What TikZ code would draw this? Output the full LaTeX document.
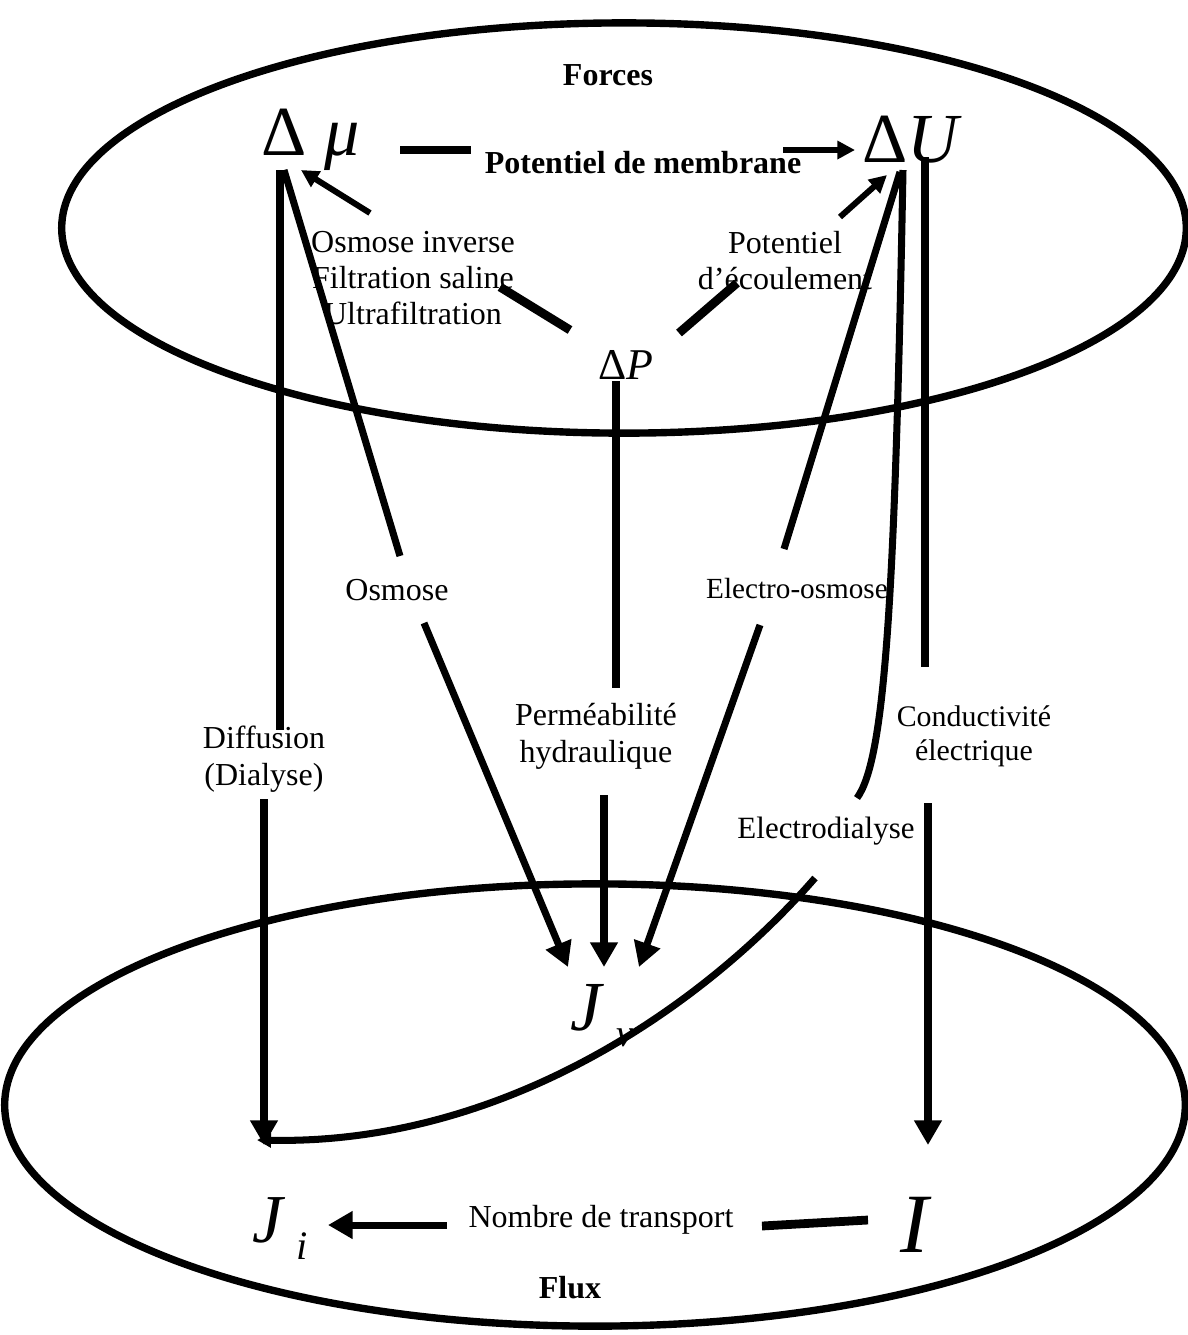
\documentclass[tikz,border=0pt]{standalone}
\usepackage{fontspec}
\setmainfont{Liberation Serif}
\usetikzlibrary{arrows.meta}

\begin{document}
\begin{tikzpicture}[x=0.01cm, y=-0.01cm,
    every node/.style={inner sep=0pt, align=center, font=\fontsize{9.1}{10.3}\selectfont},
    lbl/.style={anchor=base},
    title/.style={anchor=base, font=\fontsize{9.1}{10.3}\selectfont\bfseries},
    big/.style={anchor=base, font=\fontsize{19}{19}\selectfont},
    link/.style={line width=2pt},
    bar/.style={line width=2.5pt},
    flow/.style={line width=2pt, -{Triangle[length=7pt,width=7.5pt]}},
    nudge/.style={line width=1.7pt, -{Triangle[length=5pt,width=5pt]}}]
  \useasboundingbox (0,0) rectangle (1188,1335);
  % the two sets
  \draw[line width=2.1pt] (624,228) ellipse [x radius=5.62cm, y radius=2.05cm];
  \draw[line width=2.1pt] (595,1105) ellipse [x radius=5.90cm, y radius=2.21cm];
  \node[title] (forces) at (608,85) {Forces};
  \node[title] (flux) at (570,1298) {Flux};

  % forces
  \node[big, font=\fontsize{20}{20}\selectfont] (dmu) at (311,155) {Δ \textit{μ}};
  \node[big, font=\fontsize{20}{20}\selectfont] (dU) at (912,162) {Δ\textit{U}};
  \node[big, font=\fontsize{12.5}{12.5}\selectfont] (dP) at (626,379) {Δ\textit{P}};
  % flux
  \node[big, font=\fontsize{20}{20}\selectfont] (jv) at (602,1030)
    {\textit{J}\,\raisebox{-4.8pt}{\fontsize{11}{11}\selectfont\textit{v}}};
  \node[big, font=\fontsize{19.5}{19.5}\selectfont] (ji) at (280,1242)
    {\textit{J}\,\raisebox{-5pt}{\fontsize{11.5}{11.5}\selectfont\textit{i}}};
  \node[big, font=\fontsize{24}{24}\selectfont] (I) at (916,1252) {\textit{I}};

  % couplings (base = last line)
  \node[title] (pdm) at (643,173) {Potentiel de membrane};
  \node[lbl, font=\fontsize{9.1}{10.2}\selectfont] (osminv) at (413,324)
    {Osmose inverse\\Filtration saline\\Ultrafiltration};
  \node[lbl, font=\fontsize{9.1}{10.2}\selectfont] (potec) at (785,289)
    {Potentiel\\d’écoulement};
  \node[lbl] (osmose) at (397,600) {Osmose};
  \node[lbl, font=\fontsize{8.3}{9.5}\selectfont] (elosm) at (797,598) {Electro-osmose};
  \node[lbl, font=\fontsize{9.1}{10.5}\selectfont] (diff) at (264,785) {Diffusion\\(Dialyse)};
  \node[lbl, font=\fontsize{9.1}{10.5}\selectfont] (perm) at (596,762)
    {Perméabilité\\hydraulique};
  \node[lbl, font=\fontsize{8.5}{9.4}\selectfont] (cond) at (974,760)
    {Conductivité\\électrique};
  \node[lbl, font=\fontsize{8.8}{10}\selectfont] (edial) at (826,838) {Electrodialyse};
  \node[lbl] (nbt) at (601,1227) {Nombre de transport};

  % ports
  \coordinate (dmu-s) at (280,170);   \coordinate (dmu-s2) at (284,170);
  \coordinate (dmu-se) at (301,170);  \coordinate (dmu-e) at (400,150);
  \coordinate (dU-w) at (855,150);    \coordinate (dU-sw) at (887,175);
  \coordinate (dU-s) at (900,172);    \coordinate (dU-s2) at (903,170);
  \coordinate (dU-se) at (925,157);
  \coordinate (dP-s) at (616,381);    \coordinate (dP-nw) at (570,330);
  \coordinate (dP-ne) at (679,333);
  \coordinate (pdm-w) at (471,150);   \coordinate (pdm-e) at (783,150);
  \coordinate (osminv-n) at (370,213); \coordinate (osminv-e) at (500,287);
  \coordinate (potec-n) at (840,217); \coordinate (potec-w) at (737,283);
  \coordinate (osmose-n) at (400,556); \coordinate (osmose-s) at (424,623);
  \coordinate (elosm-n) at (784,549); \coordinate (elosm-s) at (760,625);
  \coordinate (diff-n) at (280,730);  \coordinate (diff-s) at (264,799);
  \coordinate (perm-n) at (616,688);  \coordinate (perm-s) at (604,795);
  \coordinate (cond-n) at (925,667);  \coordinate (cond-s) at (928,803);
  \coordinate (edial-n) at (857,798); \coordinate (edial-s) at (815,878);
  \coordinate (jv-nw) at (568,967);   \coordinate (jv-n) at (604,967);
  \coordinate (jv-ne) at (639,967);
  \coordinate (ji-n) at (264,1145);   \coordinate (ji-ne) at (257,1140);
  \coordinate (ji-e) at (328,1225);   \coordinate (nbt-w) at (447,1225);
  \coordinate (nbt-e) at (762,1226);  \coordinate (I-w) at (868,1220);
  \coordinate (I-n) at (928,1145);

  % inside the forces
  \draw[bar] (dmu-e) -- (pdm-w);
  \draw[nudge] (pdm-e) -- (dU-w);
  \draw[nudge] (osminv-n) -- (dmu-se);
  \draw[bar] (dP-nw) -- (osminv-e);
  \draw[bar] (dP-ne) -- (potec-w);
  \draw[nudge] (potec-n) -- (dU-sw);
  % forces -> flux
  \draw[link] (dmu-s) -- (diff-n);
  \draw[flow] (diff-s) -- (ji-n);
  \draw[link] (dmu-s2) -- (osmose-n);
  \draw[flow] (osmose-s) -- (jv-nw);
  \draw[link] (dP-s) -- (perm-n);
  \draw[flow] (perm-s) -- (jv-n);
  \draw[link] (dU-s) -- (elosm-n);
  \draw[flow] (elosm-s) -- (jv-ne);
  \draw[link] (dU-se) -- (cond-n);
  \draw[flow] (cond-s) -- (I-n);
  \draw[link] (dU-s2) .. controls (895,600) and (885,760) .. (edial-n);
  \draw[link, -{Triangle[length=4pt,width=4pt]}] (edial-s)
    .. controls (700,1010) and (500,1145) .. (ji-ne);
  % inside the flux
  \draw[bar] (I-w) -- (nbt-e);
  \draw[flow] (nbt-w) -- (ji-e);
\end{tikzpicture}
\end{document}
